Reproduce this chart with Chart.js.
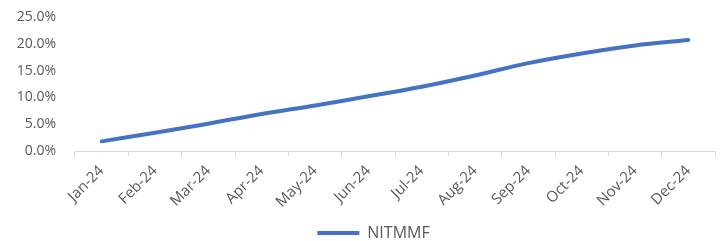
<!DOCTYPE html>
<html>
<head>
<meta charset="utf-8">
<script src="https://cdn.jsdelivr.net/npm/chart.js@4/dist/chart.umd.min.js"></script>
<style>
  html, body { margin: 0; padding: 0; background: #fff; }
  #wrap { width: 722px; height: 241px; }
</style>
</head>
<body>
<div id="wrap"><canvas id="returnsChart"></canvas></div>
<script>
// monthly cumulative return
const months = ['Jan-24', 'Feb-24', 'Mar-24', 'Apr-24', 'May-24', 'Jun-24',
                'Jul-24', 'Aug-24', 'Sep-24', 'Oct-24', 'Nov-24', 'Dec-24'];
const nitmmf = [0.018, 0.034, 0.051, 0.069, 0.085, 0.102, 0.120, 0.141, 0.164, 0.182, 0.197, 0.207];
const yTicks = [0, 0.05, 0.10, 0.15, 0.20, 0.25];

const grey = '#595959';
const font = { family: 'Open Sans', size: 14 };

// the original legend sits a bit right of centre
const legendShift = {
  id: 'legendShift',
  afterLayout(chart) {
    if (chart.legend) {
      chart.legend.left += 16;
      chart.legend.right += 16;
    }
  }
};

const ctx = document.getElementById('returnsChart').getContext('2d');
new Chart(ctx, {
  type: 'line',
  data: {
    labels: months,
    datasets: [{
      label: 'NITMMF',
      data: nitmmf,
      borderColor: '#4472C4',
      backgroundColor: '#4472C4',
      borderWidth: 4,
      borderCapStyle: 'round',
      pointRadius: 0,
      pointHoverRadius: 0,
      tension: 0.35,
      fill: false
    }]
  },
  plugins: [legendShift],
  options: {
    responsive: true,
    maintainAspectRatio: false,
    animation: false,
    // negative bottom padding eats the legend's built-in 10px gap
    layout: { padding: { top: 17, right: 7, bottom: -10, left: 0 } },
    plugins: {
      tooltip: { enabled: false },
      legend: {
        position: 'bottom',
        labels: {
          color: grey,
          font: { family: 'Open Sans', size: 16 },
          usePointStyle: true,
          pointStyle: 'line',
          pointStyleWidth: 42,
          padding: 4
        }
      }
    },
    scales: {
      x: {
        offset: true,
        afterFit: s => { s.height = 70; },
        grid: { display: true, drawOnChartArea: false, drawTicks: true, tickLength: 5, offset: true, color: '#d9d9d9' },
        border: { color: '#d9d9d9', width: 1 },
        ticks: { color: grey, font: { family: 'Open Sans', size: 15 }, maxRotation: 45, minRotation: 45, padding: 6 }
      },
      y: {
        min: 0,
        max: 0.25,
        afterBuildTicks: s => { s.ticks = yTicks.map(v => ({ value: v })); },
        afterFit: s => { s.width = 75; s.paddingTop = 8; s.paddingBottom = 8; },
        grid: { display: false, drawTicks: false },
        border: { display: false },
        ticks: {
          color: grey,
          font: font,
          padding: 19,
          callback: v => (v * 100).toFixed(1) + '%'
        }
      }
    }
  }
});
</script>
</body>
</html>
